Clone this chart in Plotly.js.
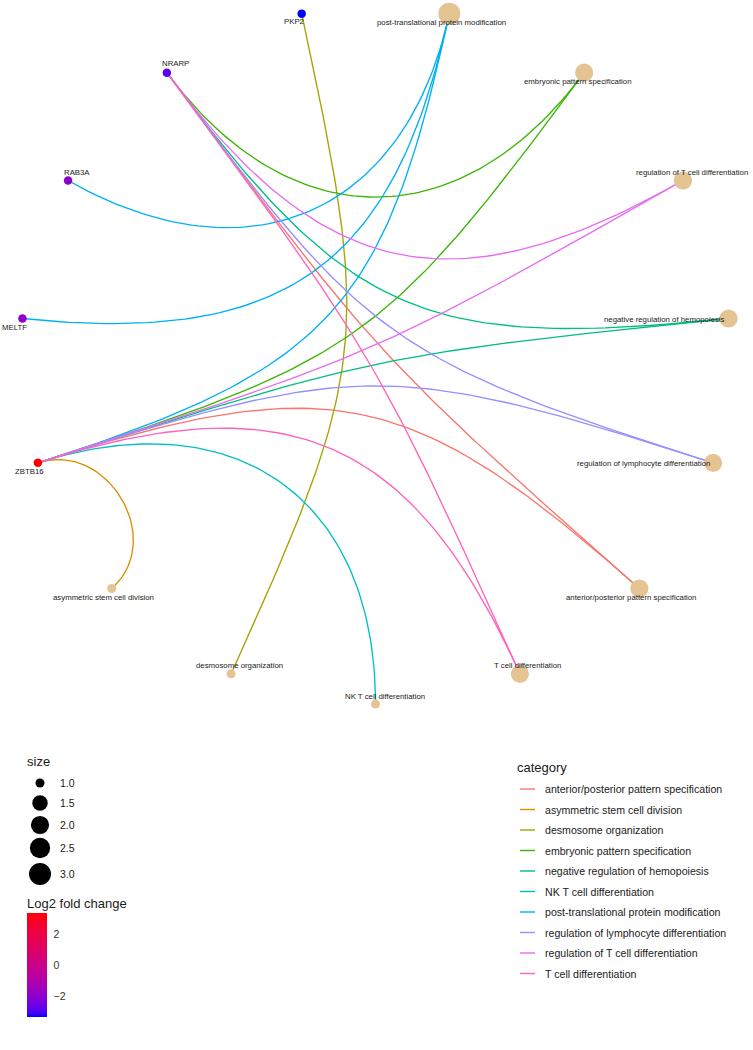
<!DOCTYPE html>
<html><head><meta charset="utf-8">
<script src="https://cdn.plot.ly/plotly-3.0.1.min.js"></script>
<style>html,body{margin:0;padding:0;background:#fff}#chart{width:753px;height:1050px}</style>
</head><body><div id="chart"></div>
<script>
// ---------------- data ----------------
const categories = ["anterior/posterior pattern specification","asymmetric stem cell division","desmosome organization","embryonic pattern specification","negative regulation of hemopoiesis","NK T cell differentiation","post-translational protein modification","regulation of lymphocyte differentiation","regulation of T cell differentiation","T cell differentiation"];
const categoryColors = ["#F8766D","#D89000","#A3A500","#39B600","#00BF7D","#00BFC4","#00B0F6","#9590FF","#E76BF3","#FF62BC"];
const genes = ["ZBTB16","MELTF","RAB3A","NRARP","PKP2"];
const foldChange = [3.35, -1.8, -2.1, -2.9, -3.35];
const edgeGene = ["ZBTB16","ZBTB16","ZBTB16","ZBTB16","ZBTB16","ZBTB16","ZBTB16","ZBTB16","ZBTB16",
                  "NRARP","NRARP","NRARP","NRARP","NRARP","NRARP","RAB3A","MELTF","PKP2"];
const edgeCategory = ["post-translational protein modification","embryonic pattern specification","regulation of T cell differentiation","negative regulation of hemopoiesis","regulation of lymphocyte differentiation","anterior/posterior pattern specification","T cell differentiation","NK T cell differentiation","asymmetric stem cell division",
                  "embryonic pattern specification","regulation of T cell differentiation","negative regulation of hemopoiesis","regulation of lymphocyte differentiation","anterior/posterior pattern specification","T cell differentiation",
                  "post-translational protein modification","post-translational protein modification","desmosome organization"];
const nodeOrder = ["post-translational protein modification","embryonic pattern specification","regulation of T cell differentiation","negative regulation of hemopoiesis","regulation of lymphocyte differentiation","anterior/posterior pattern specification","T cell differentiation","NK T cell differentiation","desmosome organization","asymmetric stem cell division","ZBTB16","MELTF","RAB3A","NRARP","PKP2"];
const sizeBreaks = [1.0, 1.5, 2.0, 2.5, 3.0];
const colorTicks = [-2, 0, 2];
const colorTickText = ["\u22122", "0", "2"];

// ---------------- styling / layout config ----------------
const W = 753, H = 1050;
const CX = 375.5, CY = 355, RX = 355, RY = 349, NET_BOTTOM = 730;
const FONT = "Liberation Sans, Arial, Helvetica, sans-serif";
const CAT_NODE_COLOR = "#E5C494";
const labelOffset = { // pixel offsets (dx right, dy down)
  "PKP2":[-8,8], "NRARP":[9,-9], "RAB3A":[9,-8], "MELTF":[-8,9], "ZBTB16":[-8,9],
  "post-translational protein modification":[-8,9], "embryonic pattern specification":[-7,9],
  "regulation of T cell differentiation":[9,-8], "negative regulation of hemopoiesis":[-64,1],
  "regulation of lymphocyte differentiation":[-70,1], "asymmetric stem cell division":[-8,9],
  "anterior/posterior pattern specification":[-8,9], "desmosome organization":[8,-8],
  "T cell differentiation":[8,-8], "NK T cell differentiation":[9,-8]
};
function sizePx(v){ const lo=1, hi=3; return 9 + 13*Math.sqrt((v-lo)/(hi-lo)); }

// ---------------- Lab colour ramp (blue -> red) ----------------
function srgb2lin(c){ c/=255; return c<=0.04045? c/12.92 : Math.pow((c+0.055)/1.055,2.4); }
function lin2srgb(c){ c = c<=0.0031308? 12.92*c : 1.055*Math.pow(c,1/2.4)-0.055; return Math.round(Math.max(0,Math.min(1,c))*255); }
const WP=[0.95047,1,1.08883];
function rgb2lab(r,g,b){ const R=srgb2lin(r),G=srgb2lin(g),B=srgb2lin(b);
  const X=(0.4124*R+0.3576*G+0.1805*B)/WP[0], Y=(0.2126*R+0.7152*G+0.0722*B)/WP[1], Z=(0.0193*R+0.1192*G+0.9505*B)/WP[2];
  const f=t=> t>0.008856? Math.cbrt(t) : 7.787*t+16/116;
  const fx=f(X),fy=f(Y),fz=f(Z); return [116*fy-16, 500*(fx-fy), 200*(fy-fz)]; }
function lab2rgb(L,a,b){ const fy=(L+16)/116, fx=fy+a/500, fz=fy-b/200;
  const fi=t=> t>0.206893? t*t*t : (t-16/116)/7.787;
  const X=fi(fx)*WP[0], Y=fi(fy)*WP[1], Z=fi(fz)*WP[2];
  const R=3.2406*X-1.5372*Y-0.4986*Z, G=-0.9689*X+1.8758*Y+0.0415*Z, B=0.0557*X-0.2040*Y+1.0570*Z;
  return `rgb(${lin2srgb(R)},${lin2srgb(G)},${lin2srgb(B)})`; }
const labLow=rgb2lab(0,0,255), labHigh=rgb2lab(255,0,0);
const colorscale=[]; for(let i=0;i<=30;i++){ const t=i/30;
  colorscale.push([t, lab2rgb(labLow[0]+(labHigh[0]-labLow[0])*t, labLow[1]+(labHigh[1]-labLow[1])*t, labLow[2]+(labHigh[2]-labLow[2])*t)]); }
const CMIN=Math.min(...foldChange), CMAX=Math.max(...foldChange);

// ---------------- circular layout ----------------
const pos = {};
nodeOrder.forEach((n,i)=>{ const a=(78-24*i)*Math.PI/180; pos[n]=[Math.cos(a), Math.sin(a)]; });
function bezier(S,E,n){
  const d=Math.hypot(E[0]-S[0],E[1]-S[1]), k=d/2;
  const rs=Math.hypot(S[0],S[1]), re=Math.hypot(E[0],E[1]);
  const P1=[S[0]*(1-k/rs),S[1]*(1-k/rs)], P2=[E[0]*(1-k/re),E[1]*(1-k/re)];
  const xs=[],ys=[];
  for(let i=0;i<=n;i++){ const t=i/n,u=1-t;
    xs.push(u*u*u*S[0]+3*u*u*t*P1[0]+3*u*t*t*P2[0]+t*t*t*E[0]);
    ys.push(u*u*u*S[1]+3*u*u*t*P1[1]+3*u*t*t*P2[1]+t*t*t*E[1]); }
  return [xs,ys];
}

const traces=[];
// edges, one trace per category
categories.forEach((c,ci)=>{
  const xs=[],ys=[];
  edgeCategory.forEach((ec,ei)=>{ if(ec!==c) return;
    const [bx,by]=bezier(pos[edgeGene[ei]],pos[c],80);
    xs.push(...bx,null); ys.push(...by,null); });
  traces.push({type:"scatter",mode:"lines",x:xs,y:ys,xaxis:"x",yaxis:"y",
    line:{color:categoryColors[ci],width:1.35},hoverinfo:"skip",showlegend:false,name:c});
});
// category nodes
const catCount = categories.map(c=>edgeCategory.filter(e=>e===c).length);
traces.push({type:"scatter",mode:"markers",x:categories.map(c=>pos[c][0]),y:categories.map(c=>pos[c][1]),
  xaxis:"x",yaxis:"y",marker:{color:CAT_NODE_COLOR,opacity:1,size:catCount.map(sizePx),line:{width:0}},
  text:categories,hoverinfo:"text",showlegend:false});
// gene nodes with colour bar
traces.push({type:"scatter",mode:"markers",x:genes.map(g=>pos[g][0]),y:genes.map(g=>pos[g][1]),
  xaxis:"x",yaxis:"y",text:genes,hoverinfo:"text",showlegend:false,
  marker:{size:8.5,opacity:1,color:foldChange,colorscale:colorscale,cmin:CMIN,cmax:CMAX,line:{width:0},
    colorbar:{x:27/W,xanchor:"left",xpad:0,y:1-913/H,yanchor:"top",ypad:0,len:104,lenmode:"pixels",
      thickness:20,thicknessmode:"pixels",outlinewidth:0,ticks:"outside",ticklen:5,tickcolor:"rgba(0,0,0,0)",tickwidth:1,
      tickvals:colorTicks,ticktext:colorTickText,tickfont:{family:FONT,size:10.5,color:"#333333"}}}});

// size legend circles (pixel axes)
const sizeLegendY=[783,803,825,848,874];
traces.push({type:"scatter",mode:"markers",x:sizeBreaks.map(()=>40),y:sizeLegendY,xaxis:"x2",yaxis:"y2",
  marker:{color:"#000000",opacity:1,size:sizeBreaks.map(sizePx),line:{width:0}},hoverinfo:"skip",showlegend:false});
// category legend keys
const catLegendY0=789, catLegendStep=20.5;
categories.forEach((c,ci)=>{ const yy=catLegendY0+ci*catLegendStep;
  traces.push({type:"scatter",mode:"lines",x:[520,535],y:[yy,yy],xaxis:"x2",yaxis:"y2",
    line:{color:categoryColors[ci],width:1.4},hoverinfo:"skip",showlegend:false}); });

// annotations
const ann=[];
nodeOrder.forEach(n=>{ const o=labelOffset[n];
  ann.push({x:pos[n][0],y:pos[n][1],xref:"x",yref:"y",text:n,showarrow:false,xshift:o[0],yshift:-o[1],
    xanchor:"center",yanchor:"middle",font:{family:FONT,size:7.8,color:"#1a1a1a"}}); });
const txt=(t,x,y,size,anchor)=>ann.push({x:x,y:y,xref:"x2",yref:"y2",text:t,showarrow:false,xanchor:anchor||"left",yanchor:"middle",
  font:{family:FONT,size:size,color:"#1a1a1a"}});
txt("size",25,761,13);
sizeBreaks.forEach((s,i)=>txt(s.toFixed(1),58,sizeLegendY[i],10.5));
txt("Log2 fold change",25,903,13);
txt("category",515,767,13);
categories.forEach((c,i)=>txt(c,543,catLegendY0+i*catLegendStep,10.6));

// white ticks on both sides of the colour bar
const shapes=[];
colorTicks.forEach(v=>{ const yy=913+(CMAX-v)/(CMAX-CMIN)*104;
  shapes.push({type:"line",xref:"x2",yref:"y2",x0:27,x1:31,y0:yy,y1:yy,line:{color:"#ffffff",width:1}});
  shapes.push({type:"line",xref:"x2",yref:"y2",x0:43,x1:47,y0:yy,y1:yy,line:{color:"#ffffff",width:1}}); });

const layout={width:W,height:H,margin:{l:0,r:0,t:0,b:0},paper_bgcolor:"#ffffff",plot_bgcolor:"rgba(0,0,0,0)",
  showlegend:false,font:{family:FONT},
  xaxis:{domain:[0,1],range:[(0-CX)/RX,(W-CX)/RX],visible:false,fixedrange:true},
  yaxis:{domain:[1-NET_BOTTOM/H,1],range:[(CY-NET_BOTTOM)/RY,CY/RY],visible:false,fixedrange:true},
  xaxis2:{domain:[0,1],range:[0,W],visible:false,anchor:"y2",fixedrange:true},
  yaxis2:{domain:[0,1],range:[H,0],visible:false,anchor:"x2",fixedrange:true},
  annotations:ann,shapes:shapes};
Plotly.newPlot("chart",traces,layout,{displayModeBar:false,staticPlot:true});
</script></body></html>
